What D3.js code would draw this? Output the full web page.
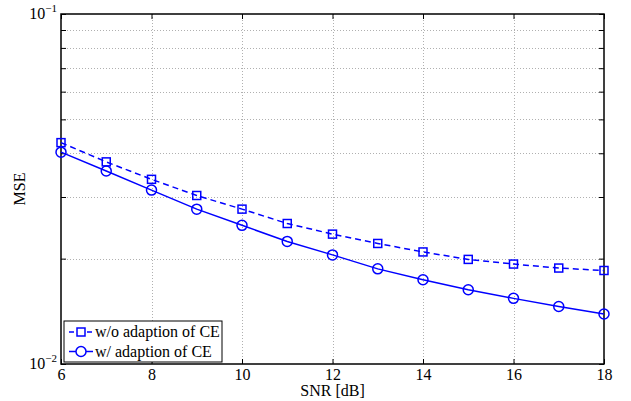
<!DOCTYPE html>
<html>
<head>
<meta charset="utf-8">
<script src="https://cdn.jsdelivr.net/npm/d3@7"></script>
<style>
  body { margin: 0; background: #fff; }
  svg text { font-family: "Liberation Serif", "Times New Roman", Times, serif; }
</style>
</head>
<body>
<script>
// SNR points and MSE for both curves
var snr = [6, 7, 8, 9, 10, 11, 12, 13, 14, 15, 16, 17, 18];
var mseNoAdapt = [0.0429, 0.0378, 0.0337, 0.0303, 0.0277, 0.0252, 0.0235, 0.0221, 0.0209, 0.0199, 0.0193, 0.0188, 0.0185];
var mseAdapt = [0.0403, 0.0356, 0.0314, 0.0277, 0.0249, 0.0224, 0.0205, 0.0187, 0.0174, 0.0163, 0.0154, 0.0146, 0.0139];
var seriesNames = ['w/o adaption of CE', 'w/ adaption of CE'];
var xTicks = [6, 8, 10, 12, 14, 16, 18];
var yDecades = [0.01, 0.1];
var yMinor = [0.02, 0.03, 0.04, 0.05, 0.06, 0.07, 0.08, 0.09];

var w = 631, h = 401;
var m = {left: 61, right: 27, top: 14, bottom: 37};
var pw = w - m.left - m.right, ph = h - m.top - m.bottom;
var blue = '#0000ff';
var serif = '"Liberation Serif", "Times New Roman", Times, serif';
var fs = 16;

var svg = d3.select('body').append('svg')
            .attr('width', w).attr('height', h)
            .attr('font-family', serif);

var x = d3.scaleLinear().domain([6, 18]).range([m.left, m.left + pw]);
var y = d3.scaleLog().domain([0.01, 0.1]).range([m.top + ph, m.top]);

var grid = svg.append('g')
              .attr('stroke', '#b0b0b0')
              .attr('stroke-width', 1)
              .attr('stroke-dasharray', '1,2');
grid.selectAll('.gx')
    .data(xTicks.slice(1, -1))
    .enter().append('line')
    .attr('x1', function(d) { return Math.round(x(d)) + 0.5; })
    .attr('x2', function(d) { return Math.round(x(d)) + 0.5; })
    .attr('y1', m.top).attr('y2', m.top + ph);
grid.selectAll('.gy')
    .data(yMinor)
    .enter().append('line')
    .attr('y1', function(d) { return Math.round(y(d)) + 0.5; })
    .attr('y2', function(d) { return Math.round(y(d)) + 0.5; })
    .attr('x1', m.left).attr('x2', m.left + pw);

// axes with inward ticks
var bottom = svg.append('g')
   .attr('transform', 'translate(0,' + (m.top + ph) + ')')
   .call(d3.axisBottom(x).tickValues(xTicks).tickSizeInner(-5).tickSizeOuter(0).tickPadding(5));
svg.append('g')
   .attr('transform', 'translate(0,' + m.top + ')')
   .call(d3.axisTop(x).tickValues(xTicks).tickSizeInner(-5).tickSizeOuter(0).tickFormat(''));
svg.append('g')
   .attr('transform', 'translate(' + m.left + ',0)')
   .call(d3.axisLeft(y).tickValues(yDecades.concat(yMinor)).tickSizeInner(-5).tickSizeOuter(0).tickFormat(''));
svg.append('g')
   .attr('transform', 'translate(' + (m.left + pw) + ',0)')
   .call(d3.axisRight(y).tickValues(yDecades.concat(yMinor)).tickSizeInner(-5).tickSizeOuter(0).tickFormat(''));
svg.selectAll('.domain').remove();
svg.selectAll('g').attr('font-family', serif);
svg.selectAll('.tick line').attr('stroke', '#000');
bottom.selectAll('text').attr('font-size', fs).attr('fill', '#000');

// decade labels 10^-1 / 10^-2
yDecades.forEach(function(d) {
    var t = svg.append('text')
               .attr('x', m.left - 4).attr('y', y(d) + 5)
               .attr('text-anchor', 'end').attr('font-size', fs);
    t.append('tspan').text('10');
    t.append('tspan').attr('dy', -7).attr('font-size', 11).text('\u2212' + Math.round(-Math.log10(d)));
});

svg.append('rect')
   .attr('x', m.left).attr('y', m.top).attr('width', pw).attr('height', ph)
   .attr('fill', 'none').attr('stroke', '#000').attr('stroke-width', 1.5);

var line = d3.line()
             .x(function(d) { return x(d[0]); })
             .y(function(d) { return y(d[1]); });
var data1 = d3.zip(snr, mseNoAdapt);
var data2 = d3.zip(snr, mseAdapt);

svg.append('path').datum(data1).attr('d', line)
   .attr('fill', 'none').attr('stroke', blue).attr('stroke-width', 1.5)
   .attr('stroke-dasharray', '6,4');
svg.append('path').datum(data2).attr('d', line)
   .attr('fill', 'none').attr('stroke', blue).attr('stroke-width', 1.5);

svg.selectAll('.sq').data(data1).enter().append('rect')
   .attr('x', function(d) { return x(d[0]) - 4; })
   .attr('y', function(d) { return y(d[1]) - 4; })
   .attr('width', 8).attr('height', 8)
   .attr('fill', 'none').attr('stroke', blue).attr('stroke-width', 1.5);
svg.selectAll('.ci').data(data2).enter().append('circle')
   .attr('cx', function(d) { return x(d[0]); })
   .attr('cy', function(d) { return y(d[1]); })
   .attr('r', 5)
   .attr('fill', 'none').attr('stroke', blue).attr('stroke-width', 1.5);

// axis titles
svg.append('text').attr('x', x(12)).attr('y', 396)
   .attr('text-anchor', 'middle').attr('font-size', fs).text('SNR [dB]');
svg.append('text')
   .attr('transform', 'translate(25,' + (m.top + ph / 2) + ') rotate(-90)')
   .attr('text-anchor', 'middle').attr('font-size', fs).text('MSE');

// legend
var lg = svg.append('g').attr('transform', 'translate(64,321)');
lg.append('rect').attr('width', 158).attr('height', 41)
  .attr('fill', '#fff').attr('stroke', '#000').attr('stroke-width', 1);
seriesNames.forEach(function(name, i) {
    var yy = 11 + i * 19.5;
    lg.append('line').attr('x1', 5).attr('x2', 29).attr('y1', yy).attr('y2', yy)
      .attr('stroke', blue).attr('stroke-width', 1.5)
      .attr('stroke-dasharray', i === 0 ? '5,4' : null);
    if (i === 0) {
        lg.append('rect').attr('x', 13).attr('y', yy - 4).attr('width', 8).attr('height', 8)
          .attr('fill', '#fff').attr('stroke', blue).attr('stroke-width', 1.5);
    } else {
        lg.append('circle').attr('cx', 17).attr('cy', yy).attr('r', 5)
          .attr('fill', '#fff').attr('stroke', blue).attr('stroke-width', 1.5);
    }
    lg.append('text').attr('x', 31).attr('y', yy + 5).attr('font-size', fs).text(name);
});
</script>
</body>
</html>
